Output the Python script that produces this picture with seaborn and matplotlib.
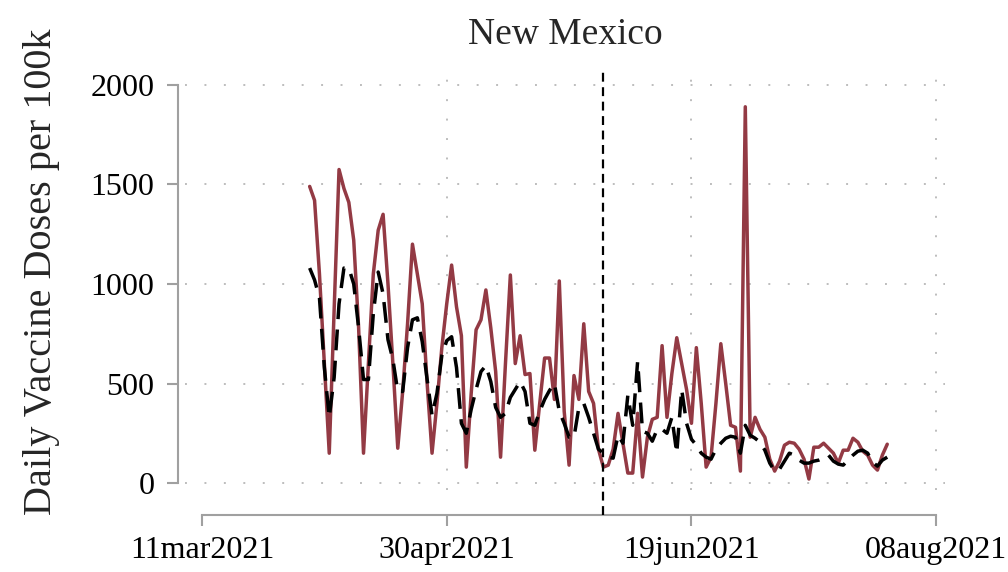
import pandas as pd
import numpy as np
import matplotlib
matplotlib.use("Agg")
import matplotlib.pyplot as plt
import matplotlib.dates as mdates
import seaborn as sns

# Data, daily from 02apr2021
start_date = "2021-04-02"
treated = [1490, 1420, 1050, 600, 150, 870, 1575, 1480, 1410, 1220,
           780, 150, 600, 1050, 1270, 1350, 1000, 600, 175, 460,
           800, 1200, 1050, 900, 500, 150, 400, 680, 900, 1095,
           885, 740, 80, 450, 770, 820, 970, 780, 560, 130,
           600, 1045, 600, 740, 545, 550, 165, 400, 628, 628,
           420, 1015, 360, 90, 540, 420, 800, 460, 400, 170,
           80, 90, 170, 350, 200, 50, 50, 350, 30, 230,
           320, 330, 690, 330, 550, 730, 600, 470, 300, 680,
           400, 80, 130, 400, 700, 500, 290, 280, 60, 1890,
           230, 330, 270, 230, 120, 60, 110, 190, 205, 200,
           170, 120, 20, 180, 180, 200, 175, 150, 100, 165,
           165, 225, 205, 160, 140, 90, 65, 140, 195]
synthetic = [1080, 1020, 930, 580, 330, 530, 900, 1080, 1080, 1000,
             780, 520, 520, 850, 1060, 950, 720, 620, 460, 460,
             680, 820, 830, 710, 520, 340, 450, 640, 715, 735,
             580, 300, 250, 370, 470, 560, 590, 510, 380, 330,
             350, 430, 470, 510, 460, 300, 290, 360, 420, 465,
             500, 360, 300, 230, 230, 380, 400, 330, 250, 170,
             150, 130, 125, 240, 200, 440, 290, 610, 260, 250,
             210, 270, 270, 250, 330, 150, 470, 300, 220, 190,
             150, 130, 120, 170, 200, 225, 235, 230, 150, 290,
             240, 225, 205, 165, 100, 60, 70, 110, 150, 140,
             115, 100, 100, 110, 115, 125, 140, 110, 95, 90,
             115, 140, 160, 165, 150, 105, 85, 115, 130]
policy_date = "2021-06-01"
tick_dates = ["2021-03-11", "2021-04-30", "2021-06-19", "2021-08-08"]
tick_labels = ["11mar2021", "30apr2021", "19jun2021", "08aug2021"]
y_ticks = [0, 500, 1000, 1500, 2000]

dates = pd.date_range(start_date, periods=len(treated), freq="D")
df = pd.DataFrame({"date": dates, "treated": treated, "synthetic": synthetic})

sns.set_style("white")
plt.rcParams["font.family"] = ["Liberation Serif", "DejaVu Serif"]

fig = plt.figure(figsize=(10.08, 5.72), dpi=100)
ax = fig.add_axes([185 / 1008, 82 / 572, 760 / 1008, 425 / 572])

grid_col = "#bdbdbd"
for yt in y_ticks:
    ax.axhline(yt, color=grid_col, lw=1.4, ls=(0, (1, 9)), zorder=0)
for td in tick_dates[1:]:
    ax.axvline(pd.Timestamp(td), color=grid_col, lw=1.4, ls=(0, (1, 9)), zorder=0)

sns.lineplot(data=df, x="date", y="treated", ax=ax, color="#933a44", lw=2.5)
sns.lineplot(data=df, x="date", y="synthetic", ax=ax, color="black", lw=2.5,
             dashes=False, linestyle=(0, (6, 3)))

ax.axvline(pd.Timestamp(policy_date), ymin=-0.059, ymax=0.993, color="black",
           lw=1.6, ls=(0, (4, 2.5)), clip_on=False, zorder=5)

x0 = pd.Timestamp("2021-03-11")
ax.set_xlim(x0 - pd.Timedelta(days=3.47), x0 + pd.Timedelta(days=151.8))
ax.set_ylim(-35, 2100)

ax.set_xticks([pd.Timestamp(t) for t in tick_dates])
ax.set_xticklabels(tick_labels)
ax.set_yticks(y_ticks)
ax.set_yticklabels([str(v) for v in y_ticks])

for s in ["top", "right"]:
    ax.spines[s].set_visible(False)
ax.spines["left"].set_position(("outward", 5))
ax.spines["bottom"].set_position(("outward", 18))
ax.spines["left"].set_bounds(0, 2000)
ax.spines["bottom"].set_bounds(mdates.date2num(pd.Timestamp(tick_dates[0])),
                               mdates.date2num(pd.Timestamp(tick_dates[-1])))
for s in ["left", "bottom"]:
    ax.spines[s].set_color("#a0a0a0")
    ax.spines[s].set_linewidth(1.5)
ax.tick_params(axis="both", bottom=True, left=True, length=8, width=1.5,
               color="#a0a0a0", labelsize=23, labelcolor="black")
ax.tick_params(axis="y", pad=9)
ax.tick_params(axis="x", pad=7)

ax.set_xlabel("")
ax.set_ylabel("Daily Vaccine Doses per 100k", fontsize=29)
ax.yaxis.set_label_coords(-0.165, 0.513)
ax.set_title("New Mexico", fontsize=27, pad=15)

fig.savefig("out.png", dpi=100)
